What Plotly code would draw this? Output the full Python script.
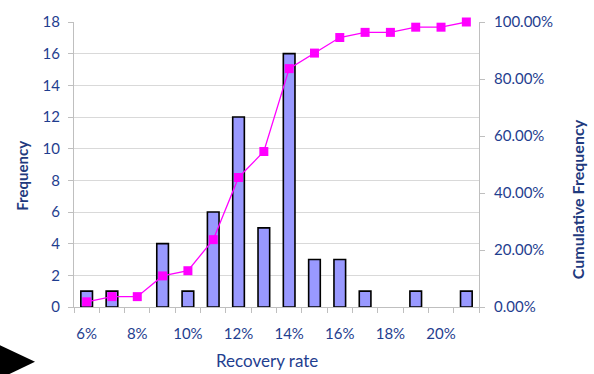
import plotly.graph_objects as go

# Recovery-rate bins (percent), counts per bin, and cumulative share
rates = [6, 7, 8, 9, 10, 11, 12, 13, 14, 15, 16, 17, 18, 19, 20, 21]
frequency = [1, 1, 0, 4, 1, 6, 12, 5, 16, 3, 3, 1, 0, 1, 0, 1]
cumulative = [0.0182, 0.0364, 0.0364, 0.1091, 0.1273, 0.2364, 0.4545, 0.5455,
              0.8364, 0.8909, 0.9455, 0.9636, 0.9636, 0.9818, 0.9818, 1.0]
x_tick_vals = [6, 8, 10, 12, 14, 16, 18, 20]
x_tick_text = ["6%", "8%", "10%", "12%", "14%", "16%", "18%", "20%"]

TEXT = "#1F3E8F"
TITLE = "#1F3A7E"
FONT = "Lato, Carlito, Calibri, sans-serif"

# Empty bins get no outline so nothing is drawn on the baseline
outline_widths = [1.6 if f > 0 else 0 for f in frequency]

fig = go.Figure()
fig.add_trace(go.Bar(
    x=rates, y=frequency, width=0.46,
    marker=dict(color="#9999FF", line=dict(color="#000000", width=outline_widths)),
    name="Frequency", yaxis="y",
))
fig.add_trace(go.Scatter(
    x=rates, y=cumulative, mode="lines+markers",
    line=dict(color="#FF00FF", width=1.3),
    marker=dict(symbol="square", size=9, color="#FF00FF"),
    cliponaxis=False,
    name="Cumulative Frequency", yaxis="y2",
))

# Margins so the plot area spans px 74..479 horizontally, 16..307 vertically
L, R, T, B = 74, 115, 16, 67
W, H = 594, 374
pw, ph = W - L - R, H - T - B


def px(x, y):
    return (x - L) / pw, (H - B - y) / ph


tri = [px(0, 346), px(35, 363), px(0, 380)]
path = "M {} {} L {} {} L {} {} Z".format(*[c for p in tri for c in p])

ax_title_x, ax_title_y = px(267, 362)
left_title_x, left_title_y = px(22, 173)
right_title_x, right_title_y = px(577, 197)

fig.update_layout(
    width=W, height=H,
    margin=dict(l=L, r=R, t=T, b=B),
    paper_bgcolor="white", plot_bgcolor="white",
    showlegend=False,
    font=dict(family=FONT, color=TEXT, size=15),
    xaxis=dict(
        range=[5.5, 21.5],
        tickvals=x_tick_vals, ticktext=x_tick_text,
        ticks="", showgrid=False, zeroline=False,
        showline=True, linecolor="#BFBFBF", linewidth=1,
        minor=dict(ticks="outside", tick0=5.5, dtick=1, ticklen=5,
                   tickcolor="#BFBFBF", showgrid=False),
        ticklabelstandoff=13,
        tickfont=dict(size=15, color=TEXT),
    ),
    yaxis=dict(
        range=[0, 18], dtick=2,
        showgrid=True, gridcolor="#D9D9D9", gridwidth=1,
        zeroline=False,
        showline=True, linecolor="#BFBFBF",
        ticks="outside", ticklen=5, tickcolor="#BFBFBF",
        ticklabelstandoff=5,
        tickfont=dict(size=15, color=TEXT),
    ),
    yaxis2=dict(
        range=[0, 1], dtick=0.2, tickformat=".2%",
        overlaying="y", side="right",
        showgrid=False, zeroline=False,
        showline=True, linecolor="#BFBFBF",
        ticks="outside", ticklen=5, tickcolor="#BFBFBF",
        ticklabelstandoff=6,
        tickfont=dict(size=15, color=TEXT),
    ),
    shapes=[dict(type="path", path=path, xref="paper", yref="paper",
                 fillcolor="#000000", line=dict(width=0))],
    annotations=[
        dict(text="Recovery rate", x=ax_title_x, y=ax_title_y, xref="paper", yref="paper",
             showarrow=False, xanchor="center", yanchor="middle",
             font=dict(size=17, color=TEXT)),
        dict(text="<b>Frequency</b>", x=left_title_x, y=left_title_y, xref="paper", yref="paper",
             showarrow=False, xanchor="center", yanchor="middle", textangle=-90,
             font=dict(size=15, color=TITLE)),
        dict(text="<b>Cumulative Frequency</b>", x=right_title_x, y=right_title_y,
             xref="paper", yref="paper",
             showarrow=False, xanchor="center", yanchor="middle", textangle=-90,
             font=dict(size=16, color=TITLE)),
    ],
)

fig.write_html("out.html")
